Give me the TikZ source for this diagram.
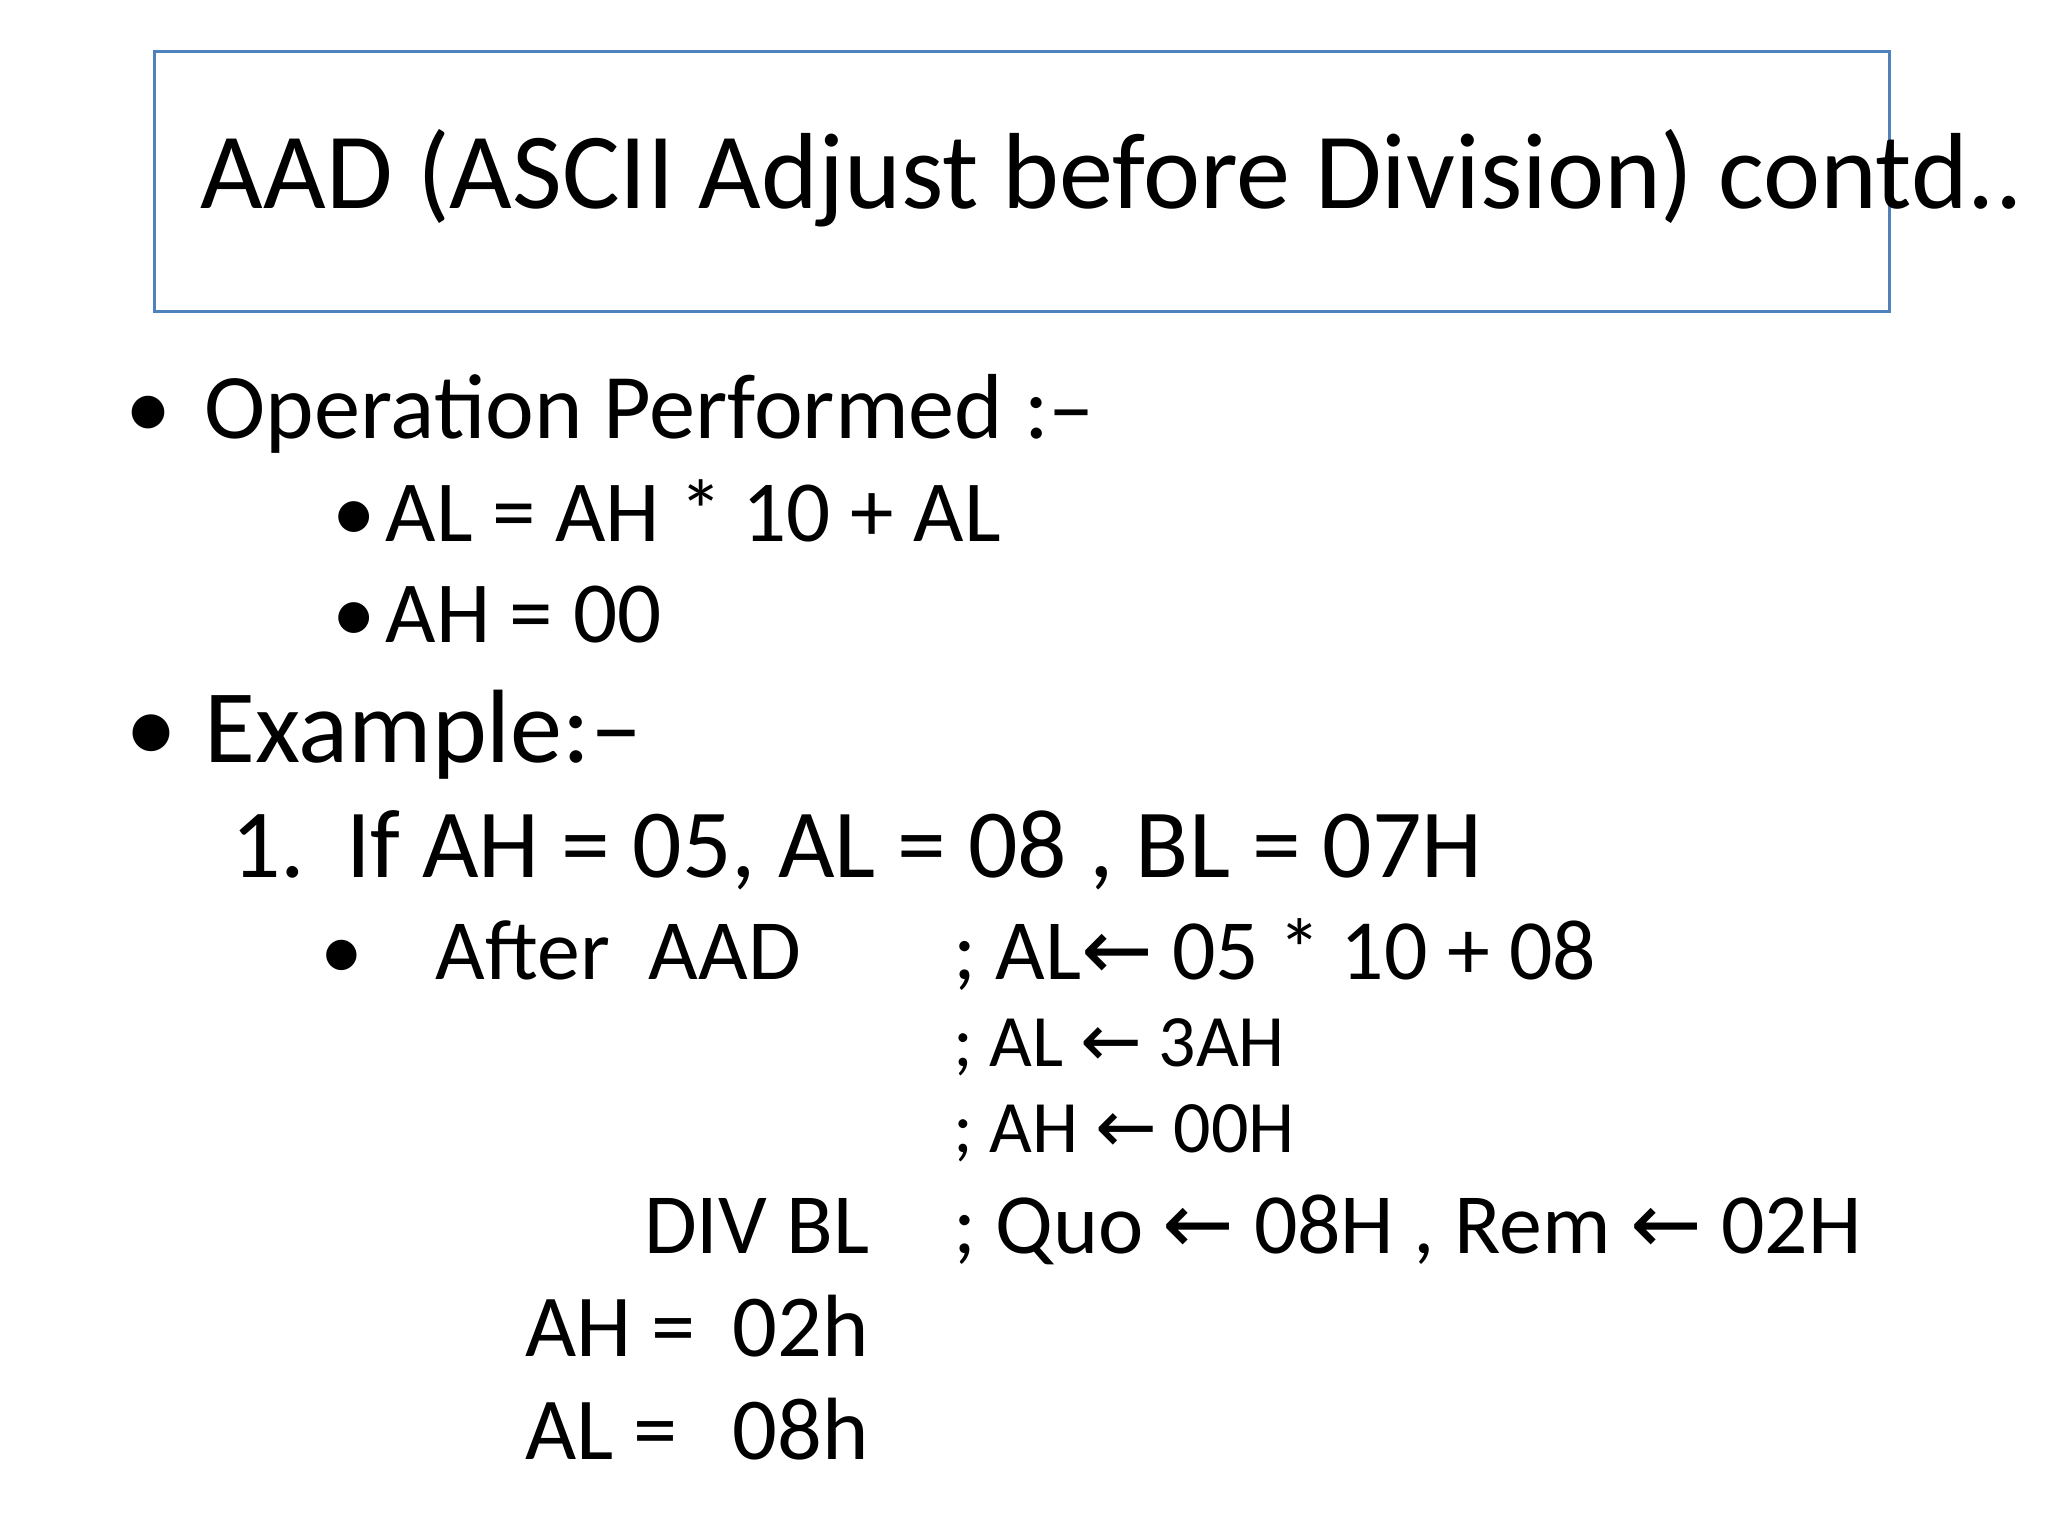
\documentclass[tikz,border=0pt]{standalone}
\usepackage{fontspec}
\setmainfont{Carlito}
\newfontfamily\arrowfont{DejaVu Sans}
\newcommand{\larr}{{\arrowfont ←}}
\begin{document}
\begin{tikzpicture}[x=1pt,y=-1pt,
  txt/.style={anchor=base west,inner sep=0pt,font=\fontsize{#1}{#1}\selectfont},
  txt/.default=66]
\useasboundingbox (0,0) rectangle (1552,1164);
\draw[color={rgb,255:red,79;green,129;blue,189},line width=2.5pt] (117,39) rectangle (1432,236);
\node[txt=82] (title) at (152,158) {AAD (ASCII Adjust before Division) contd..};
\node[txt=70] (b1) at (95,332) {•};
\node[txt=70] (op) at (155,332) {Operation Performed :--};
\node[txt=66] (b2) at (252,410) {•};
\node[txt=66] (l1) at (292,410) {AL = AH * 10 + AL};
\node[txt=66] (b3) at (252,487) {•};
\node[txt=66] (l2) at (292,487) {AH = 00};
\node[txt=79] (b4) at (95,578) {•};
\node[txt=79] (ex) at (155,578) {Example:--};
\node[txt=74] (n1) at (175,665) {1.};
\node[txt=74] (if) at (262,665) {If AH = 05, AL = 08 , BL = 07H};
\node[txt=65] (b5) at (243,742) {•};
\node[txt=65] (aad) at (330,742) {After\ \ AAD};
\node[txt=65] (c1) at (722,742) {; AL\larr\ 05 * 10 + 08};
\node[txt=56] (c2) at (722,808) {; AL \larr\ 3AH};
\node[txt=56] (c3) at (722,873) {; AH \larr\ 00H};
\node[txt=65] (div) at (488,950) {DIV BL};
\node[txt=65] (c4) at (722,950) {; Quo \larr\ 08H , Rem \larr\ 02H};
\node[txt=67] (ah) at (398,1028) {AH =};
\node[txt=67] (ahv) at (555,1028) {02h};
\node[txt=67] (al) at (398,1106) {AL =};
\node[txt=67] (alv) at (555,1106) {08h};
\end{tikzpicture}
\end{document}
